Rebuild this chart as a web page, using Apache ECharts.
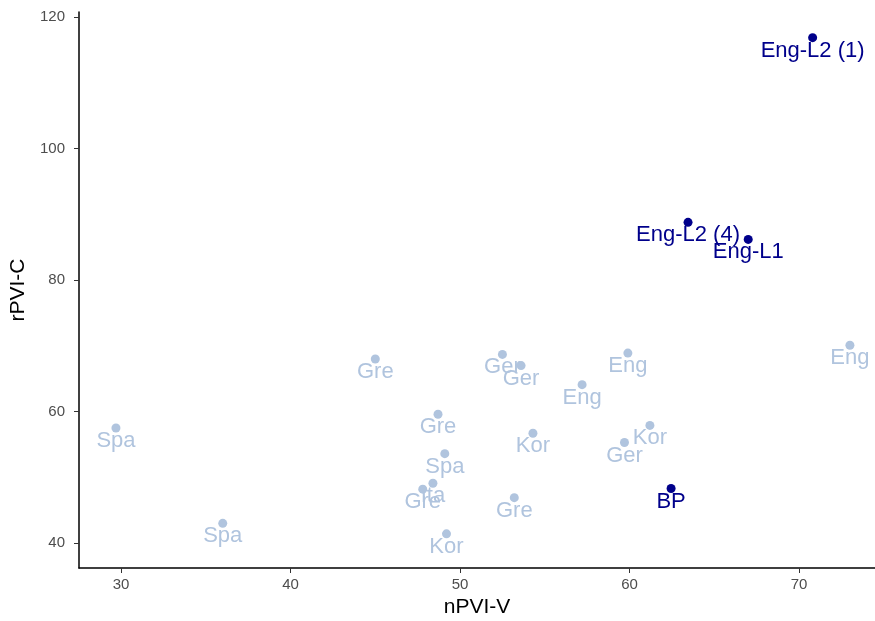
<!DOCTYPE html>
<html>
<head>
  <meta charset="utf-8">
  <title>nPVI-V vs rPVI-C</title>
  <script src="https://cdn.jsdelivr.net/npm/echarts@6/dist/echarts.min.js"></script>
  <style>
    html, body { margin: 0; padding: 0; background: #fff; }
    #chart { width: 875px; height: 621px; }
  </style>
</head>
<body>
<div id="chart"></div>
<script>
  // 背景语言（浅色）
  var langNames = ['Eng', 'Eng', 'Eng', 'Ger', 'Ger', 'Kor', 'Kor', 'Ger', 'Gre', 'Gre', 'Spa',
                   'Spa', 'Spa', 'Gre', 'Ita', 'Gre', 'Kor'];
  var langX = [73.0, 59.9, 57.2, 52.5, 53.6, 54.3, 61.2, 59.7, 45.0, 48.7, 49.1,
               29.7, 36.0, 47.8, 48.4, 53.2, 49.2];
  var langY = [70.1, 68.9, 64.1, 68.7, 67.0, 56.7, 57.9, 55.3, 68.0, 59.6, 53.6,
               57.5, 43.0, 48.2, 49.1, 46.9, 41.4];

  // 重点数据（深蓝）
  var focusNames = ['Eng-L2 (1)', 'Eng-L2 (4)', 'Eng-L1', 'BP'];
  var focusX = [70.8, 63.45, 67.0, 62.45];
  var focusY = [116.9, 88.8, 86.2, 48.3];

  var xTicks = [30, 40, 50, 60, 70];
  var yTicks = [40, 60, 80, 100, 120];

  function toPoints(names, xs, ys) {
    return names.map(function (n, i) { return { name: n, value: [xs[i], ys[i]] }; });
  }

  var chart = echarts.init(document.getElementById('chart'));

  var labelStyle = {
    show: true,
    position: 'inside',
    offset: [0, 13],
    fontSize: 22,
    fontFamily: 'Liberation Sans, Arial, sans-serif',
    formatter: function (p) { return p.name; }
  };

  chart.setOption({
    animation: false,
    textStyle: { fontFamily: 'Liberation Sans, Arial, sans-serif' },
    grid: { left: 79, right: 0, top: 12, bottom: 53, outerBoundsMode: 'none' },
    xAxis: {
      type: 'value',
      min: 27.52,
      max: 74.48,
      name: 'nPVI-V',
      nameLocation: 'middle',
      nameGap: 28,
      nameTextStyle: { fontSize: 21, color: '#000' },
      axisLine: { show: true, lineStyle: { color: '#000', width: 1.5 } },
      axisTick: { show: true, length: 5, lineStyle: { color: '#333' }, customValues: xTicks },
      axisLabel: {
        fontSize: 15, color: '#4d4d4d', margin: 9,
        customValues: xTicks
      },
      splitLine: { show: false }
    },
    yAxis: {
      type: 'value',
      min: 36.2,
      max: 120.8,
      name: 'rPVI-C',
      nameLocation: 'middle',
      nameGap: 50,
      nameTextStyle: { fontSize: 21, color: '#000' },
      axisLine: { show: true, lineStyle: { color: '#000', width: 1.5 } },
      axisTick: { show: true, length: 5, lineStyle: { color: '#333' }, customValues: yTicks },
      axisLabel: {
        fontSize: 15, color: '#4d4d4d', margin: 14,
        customValues: yTicks
      },
      splitLine: { show: false }
    },
    series: [
      {
        type: 'scatter',
        symbolSize: 9,
        itemStyle: { color: '#B0C4DE', opacity: 1 },
        label: Object.assign({ color: '#B0C4DE' }, labelStyle),
        data: toPoints(langNames, langX, langY)
      },
      {
        type: 'scatter',
        symbolSize: 9,
        itemStyle: { color: '#00008B', opacity: 1 },
        label: Object.assign({ color: '#00008B' }, labelStyle),
        data: toPoints(focusNames, focusX, focusY)
      }
    ]
  });
</script>
</body>
</html>
